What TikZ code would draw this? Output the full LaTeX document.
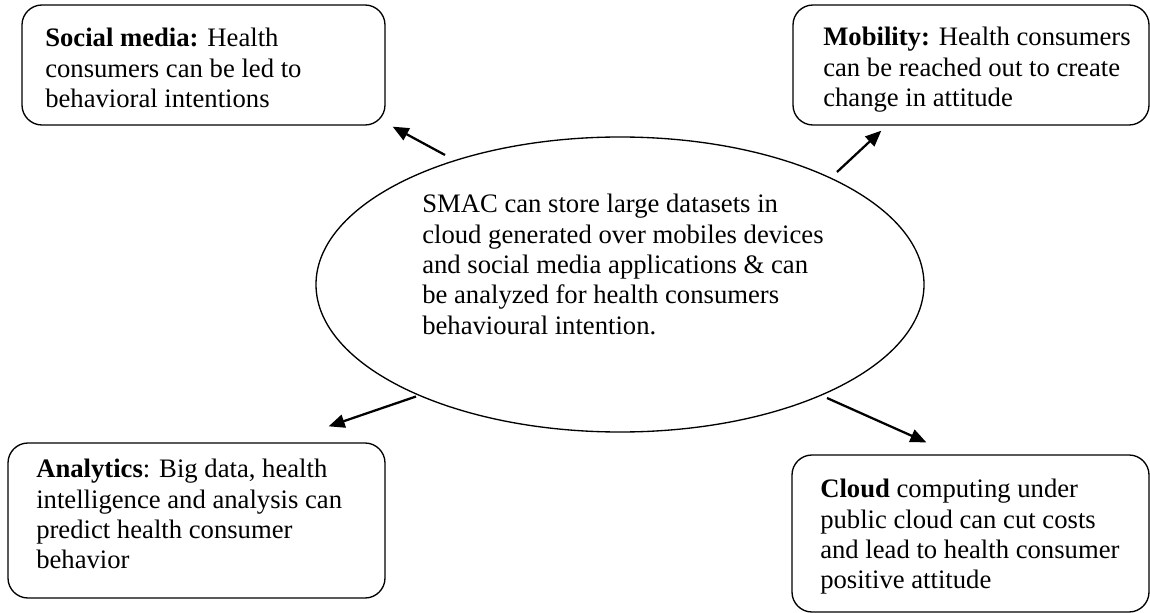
\documentclass[tikz,border=0pt]{standalone}
\usepackage{amsmath}
\usepackage{amssymb}
\usepackage{fontspec}
\setmainfont{Liberation Serif}
\usetikzlibrary{arrows.meta,shapes.geometric,calc}

\begin{document}
\begin{tikzpicture}[x=0.75pt,y=0.75pt,yscale=-1,xscale=1,
  box/.style={draw, line width=1pt, rounded corners=15pt, inner sep=0pt},
  txt/.style={anchor=north west, inner sep=0pt, align=left, font=\fontsize{20pt}{22.75pt}\selectfont},
  arr/.style={line width=1.7pt, -{Triangle[length=12pt,width=10pt]}}]
\useasboundingbox (0,0) rectangle (1150,613);

% Ellipse
\node (smac) [draw, ellipse, line width=1pt, inner sep=0pt, minimum width=456pt, minimum height=221.25pt] at (620,284.5) {};
% Rounded Rect
\node (social) [box, minimum width=272.25pt, minimum height=90pt] at (203.5,65) {};
% Rounded Rect
\node (mobility) [box, minimum width=267pt, minimum height=90pt] at (971,65) {};
% Rounded Rect
\node (analytics) [box, minimum width=282.75pt, minimum height=116.25pt] at (196.5,520.5) {};
% Rounded Rect
\node (cloud) [box, minimum width=267.75pt, minimum height=117.75pt] at (970.5,533.5) {};

% Straight Lines
\draw [arr] ($(smac.center)+(-175,-129.5)$) -- ($(social.south east)+(7,1)$);
\draw [arr] ($(smac.center)+(217,-112.5)$) -- ($(mobility.south west)+(89,5)$);
\draw [arr] ($(smac.center)+(-204,112)$) -- ($(analytics.north east)+(-57,-16)$);
\draw [arr] ($(smac.center)+(207,113.5)$) -- ($(cloud.north west)+(135,-12)$);

% Text Node
\node (socialtxt) [txt] at (45,28) {\textbf{Social media:} Health\\consumers can be led to\\behavioral intentions};
\node (mobilitytxt) [txt] at (823,27) {\textbf{Mobility:} Health consumers\\can be reached out to create\\change in attitude};
\node (smactxt) [txt] at (422,194) {SMAC can store large datasets in\\cloud generated over mobiles devices\\and social media applications \& can\\be analyzed for health consumers\\behavioural intention.};
\node (analyticstxt) [txt] at (36,459) {\textbf{Analytics}: Big data, health\\intelligence and analysis can\\predict health consumer\\behavior};
\node (cloudtxt) [txt] at (820,479) {\textbf{Cloud} computing under\\public cloud can cut costs\\and lead to health consumer\\positive attitude};

\end{tikzpicture}
\end{document}
